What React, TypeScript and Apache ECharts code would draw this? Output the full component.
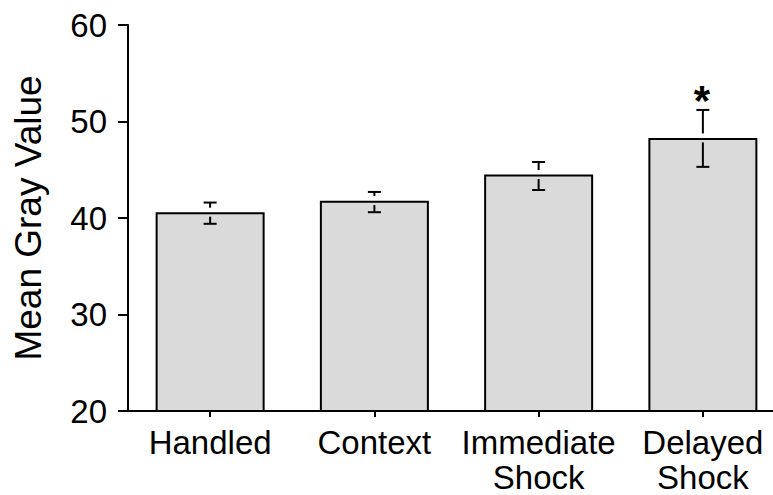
import React, { useEffect, useRef } from "react";
import * as echarts from "echarts";

const categories = ["Handled", "Context", "Immediate\nShock", "Delayed\nShock"];
const means = [40.6, 41.8, 44.5, 48.3];
const errHigh = [41.6, 42.7, 45.8, 51.2];
const errLow = [39.4, 40.6, 42.9, 45.3];
const significance = ["", "", "", "*"];
const yTicks = [20, 30, 40, 50, 60];

const FONT = "'Liberation Sans', Arial, Helvetica, sans-serif";

export default function App() {
  const ref = useRef<HTMLDivElement>(null);
  useEffect(() => {
    if (!ref.current) return;
    const chart = echarts.init(ref.current, undefined, { renderer: "svg" });
    const errData = categories.map((_, i) => [i, errLow[i], errHigh[i], means[i]]);
    chart.setOption({
      animation: false,
      backgroundColor: "#ffffff",
      grid: { left: 128, top: 25, height: 387, width: 657, containLabel: false },
      xAxis: {
        type: "category",
        data: categories,
        boundaryGap: true,
        axisLine: { lineStyle: { color: "#000", width: 2 } },
        axisTick: { show: true, alignWithLabel: true, length: 6, lineStyle: { color: "#000", width: 2 } },
        axisLabel: {
          interval: 0,
          color: "#000",
          fontFamily: FONT,
          fontSize: 33,
          lineHeight: 35,
          margin: 14,
        },
      },
      yAxis: {
        type: "value",
        min: yTicks[0],
        max: yTicks[yTicks.length - 1],
        interval: 10,
        name: "Mean Gray Value",
        nameLocation: "middle",
        nameGap: 81,
        nameTextStyle: { color: "#000", fontFamily: FONT, fontSize: 37 },
        axisLine: { show: true, lineStyle: { color: "#000", width: 2 } },
        axisTick: { show: true, length: 10, lineStyle: { color: "#000", width: 2 } },
        axisLabel: { color: "#000", fontFamily: FONT, fontSize: 33, margin: 21 },
        splitLine: { show: false },
      },
      series: [
        {
          type: "bar",
          data: means,
          barWidth: 109,
          itemStyle: { color: "#dadada", borderColor: "#000", borderWidth: 2 },
          z: 2,
        },
        {
          type: "custom",
          data: errData,
          z: 5,
          renderItem: (params: any, api: any) => {
            const i = api.value(0);
            const lo = api.coord([i, api.value(1)]);
            const hi = api.coord([i, api.value(2)]);
            const top = api.coord([i, api.value(3)]);
            const x = top[0];
            const cap = 6.5;
            const gap = 4.5;
            const style = { stroke: "#000", lineWidth: 2 };
            const children: any[] = [
              { type: "line", shape: { x1: x - cap, y1: hi[1], x2: x + cap, y2: hi[1] }, style },
              { type: "line", shape: { x1: x, y1: hi[1], x2: x, y2: top[1] - gap }, style },
              { type: "line", shape: { x1: x, y1: top[1] + gap, x2: x, y2: lo[1] }, style },
              { type: "line", shape: { x1: x - cap, y1: lo[1], x2: x + cap, y2: lo[1] }, style },
            ];
            const mark = significance[params.dataIndex];
            if (mark) {
              children.push({
                type: "text",
                x: x - 1,
                y: hi[1] + 12,
                style: {
                  text: mark,
                  fill: "#000",
                  font: `bold 42px ${FONT}`,
                  textAlign: "center",
                  textVerticalAlign: "bottom",
                },
              });
            }
            return { type: "group", children };
          },
        },
      ],
    });
    return () => chart.dispose();
  }, []);
  return (
    <div style={{ position: "absolute", left: 0, top: 0, width: 773, height: 495, overflow: "hidden", background: "#fff" }}>
      <div ref={ref} style={{ width: 800, height: 495 }} />
    </div>
  );
}
